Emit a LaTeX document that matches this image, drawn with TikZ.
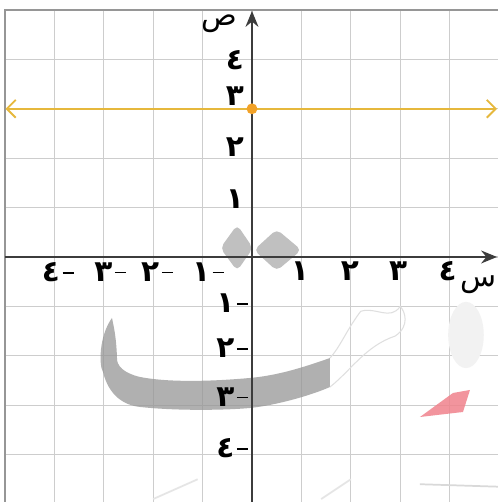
\documentclass[tikz,border=0pt]{standalone}
\usepackage{fontspec}
\usetikzlibrary{arrows.meta}
\TeXXeTstate=1
\newfontfamily\arabicfont[Script=Arabic]{DejaVu Sans}
\setmainfont{DejaVu Sans}
\definecolor{gridgray}{RGB}{205,205,205}
\definecolor{bordergray}{RGB}{150,150,150}
\definecolor{axisgray}{RGB}{60,60,60}
\definecolor{lineorange}{RGB}{230,184,60}
\definecolor{dotorange}{RGB}{242,162,40}
\definecolor{wmgray}{RGB}{150,150,150}
\definecolor{wmpink}{RGB}{240,130,140}
\tikzset{
  gridline/.style={draw=gridgray,line width=0.7pt},
  borderline/.style={draw=bordergray,line width=0.9pt},
  axisline/.style={draw=axisgray,line width=1.3pt,-{Stealth[length=3.2mm,width=2.6mm]}},
  numlabel/.style={inner sep=0pt,font=\fontsize{17}{17}\selectfont\bfseries},
  axlabel/.style={inner sep=0pt,font=\fontsize{17}{17}\selectfont},
}
\newcommand{\ar}[1]{{\arabicfont #1}}
\newcommand{\neglab}[1]{\ar{#1}\kern1.5pt\raisebox{0.26em}{\rule{0.38em}{0.8pt}}}
\begin{document}
\begin{tikzpicture}[x=1cm,y=1cm]
\useasboundingbox (-5.101,-4.960) rectangle (4.980,5.202);
\fill[white] (-5.101,-4.960) rectangle (4.980,5.202);
% grid
\foreach \i in {-4,...,4} \draw[gridline] (\i,-4.96) -- (\i,5);
\foreach \j in {-4,...,4} \draw[gridline] (-5,\j) -- (4.98,\j);
\draw[borderline] (-5,-4.96) -- (-5,5) -- (4.98,5);
% watermark shapes
\begin{scope}[opacity=0.6]
\fill[wmgray, rounded corners=3pt] (-0.30,0.65) -- (0.02,0.18) -- (-0.30,-0.28) -- (-0.64,0.18) -- cycle;
\fill[wmgray, rounded corners=3pt] (0.50,0.56) -- (1.00,0.14) -- (0.50,-0.28) -- (0.04,0.14) -- cycle;
\end{scope}
\begin{scope}[opacity=0.75]
\fill[wmgray] (-2.834,-1.235) .. controls (-3.1,-1.6) and (-3.1,-2.2) .. (-3.016,-2.327)
  .. controls (-2.9,-2.8) and (-2.6,-3.0) .. (-2.267,-3.036)
  .. controls (-1.5,-3.12) and (-0.5,-3.1) .. (-0.040,-3.057)
  .. controls (0.5,-3.0) and (1.2,-2.8) .. (1.579,-2.632)
  -- (1.579,-2.045)
  .. controls (1.0,-2.25) and (0.5,-2.4) .. (-0.040,-2.449)
  .. controls (-0.6,-2.5) and (-1.6,-2.56) .. (-2.267,-2.429)
  .. controls (-2.6,-2.35) and (-2.75,-2.2) .. (-2.733,-2.024)
  .. controls (-2.75,-1.6) and (-2.8,-1.4) .. cycle;
\end{scope}
\draw[gray!25, line width=0.6pt] (1.579,-2.632) .. controls (2.0,-2.3) and (2.3,-1.8) .. (2.9,-1.6)
  .. controls (3.2,-1.4) and (3.1,-1.1) .. (3.0,-1.0)
  .. controls (2.8,-1.3) and (2.5,-1.0) .. (2.2,-1.1)
  .. controls (1.9,-1.5) and (1.8,-1.8) .. (1.579,-2.045);
\fill[gray!10] (4.332,-1.579) ellipse [x radius=0.36, y radius=0.67];
\fill[wmpink, opacity=0.85] (3.401,-3.239) -- (4.069,-2.753) -- (4.413,-2.692) -- (4.271,-3.138) -- cycle;
\draw[gray!30, line width=1pt] (3.4,-4.6) -- (4.98,-4.65);
\draw[gray!20, line width=1pt] (-2.0,-4.9) -- (-1.1,-4.5);
\draw[gray!20, line width=1pt] (1.4,-4.9) -- (2.0,-4.5);
% axes
\coordinate (xl) at (-5,0);
\coordinate (xr) at (4.96,0);
\coordinate (yb) at (0,-4.96);
\coordinate (yt) at (0,4.98);
\draw[axisline] (xl) -- (xr);
\draw[axisline] (yb) -- (yt);
% horizontal line y=3
\coordinate (hl) at (-4.99,3);
\coordinate (hr) at (4.96,3);
\draw[lineorange, line width=1.1pt, {Straight Barb[length=1.8mm,width=3.6mm]}-{Straight Barb[length=1.8mm,width=3.6mm]}] (hl) -- (hr);
\node[circle, fill=dotorange, inner sep=0pt, minimum size=2.2mm] (pt) at (0,3) {};
% axis labels
\node[axlabel] (ysym) at (-0.67,4.72) {\ar{\beginR ص\endR}};
\node[axlabel] (xsym) at (4.58,-0.56) {\ar{\beginR س\endR}};
% y positive
\node[numlabel] (y4) at (-0.344,3.99) {\ar{٤}};
\node[numlabel] (y3) at (-0.344,3.26) {\ar{٣}};
\node[numlabel] (y2) at (-0.344,2.22) {\ar{٢}};
\node[numlabel] (y1) at (-0.344,1.18) {\ar{١}};
% x positive
\node[numlabel] (x1) at (0.97,-0.28) {\ar{١}};
\node[numlabel] (x2) at (1.98,-0.28) {\ar{٢}};
\node[numlabel] (x3) at (2.96,-0.28) {\ar{٣}};
\node[numlabel] (x4) at (3.96,-0.28) {\ar{٤}};
% x negative
\node[numlabel] (xm4) at (-3.93,-0.30) {\neglab{٤}};
\node[numlabel] (xm3) at (-2.87,-0.30) {\neglab{٣}};
\node[numlabel] (xm2) at (-1.92,-0.30) {\neglab{٢}};
\node[numlabel] (xm1) at (-0.89,-0.30) {\neglab{١}};
% y negative
\node[numlabel] (ym1) at (-0.40,-0.93) {\neglab{١}};
\node[numlabel] (ym2) at (-0.40,-1.84) {\neglab{٢}};
\node[numlabel] (ym3) at (-0.40,-2.83) {\neglab{٣}};
\node[numlabel] (ym4) at (-0.40,-3.87) {\neglab{٤}};
\end{tikzpicture}
\end{document}
